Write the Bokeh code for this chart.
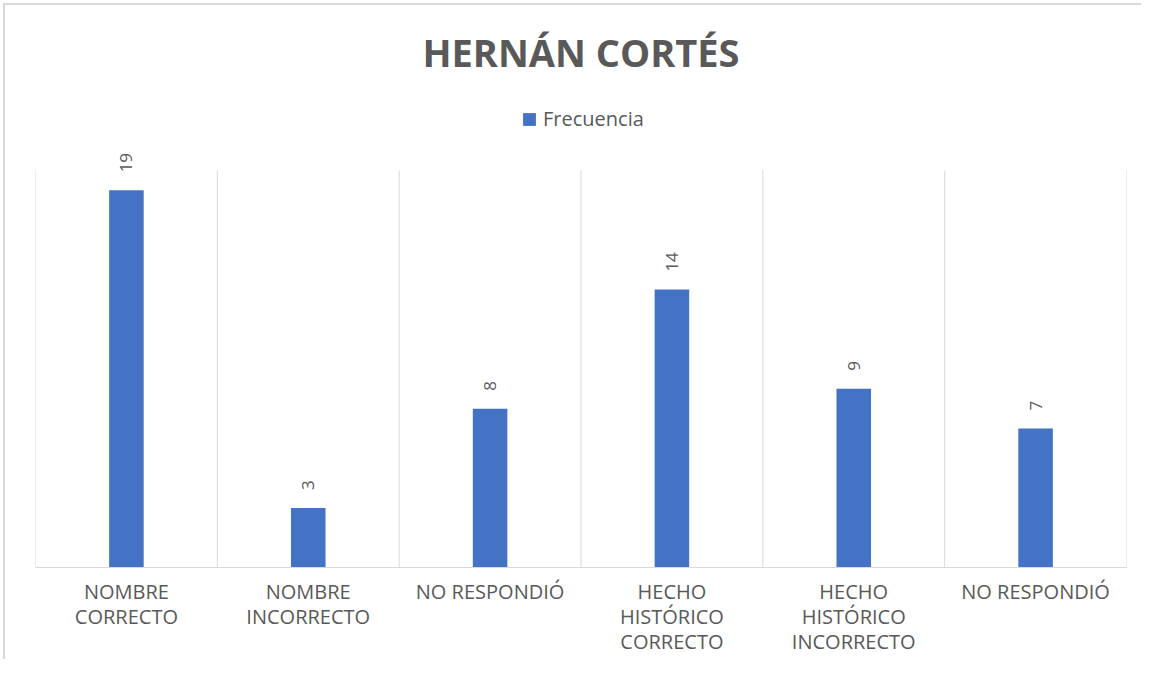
import textwrap
from math import pi
from bokeh.plotting import figure
from bokeh.models import Range1d, FixedTicker, ColumnDataSource, Legend, LegendItem, Title
from bokeh.core.properties import value
from bokeh.embed import file_html
from bokeh.resources import INLINE

# ---- data ----
categories = ["NOMBRE CORRECTO", "NOMBRE INCORRECTO", "NO RESPONDIÓ",
              "HECHO HISTÓRICO CORRECTO", "HECHO HISTÓRICO INCORRECTO", "NO RESPONDIÓ"]
frecuencia = [19, 3, 8, 14, 9, 7]
series_name = "Frecuencia"
title_text = "HERNÁN CORTÉS"
axis_max = 20

# ---- layout / style ----
FONT = "Open Sans"
GRAY = "#595959"
BLUE = "#4472C4"
LIGHT = "#d9d9d9"
W, H = 1141, 659
FRAME_TOP, FRAME_BOTTOM = 100, 567
PX_PER_UNIT = 397 / axis_max
y_end = (FRAME_BOTTOM - FRAME_TOP) / PX_PER_UNIT

n = len(categories)
positions = list(range(n))

p = figure(width=W, height=H, output_backend="svg", toolbar_location=None,
           x_range=Range1d(-0.5, n - 0.5), y_range=Range1d(0, y_end),
           min_border_left=35, min_border_right=15, min_border_top=FRAME_TOP,
           min_border_bottom=H - FRAME_BOTTOM,
           border_fill_color=None,
           styles={"box-shadow": "inset 3px 3px 0 0 #ffffff, inset 5px 5px 0 0 #d9d9d9"})

p.title = Title(text=title_text, align="center", vertical_align="top", text_font=FONT,
                text_font_size="38px", text_font_style="bold", text_color=GRAY, standoff=42)

# category separators (vertical gridlines limited to the value axis maximum)
bounds = [i - 0.5 for i in range(n + 1)]
p.segment(x0=bounds, x1=bounds, y0=[0] * len(bounds), y1=[axis_max] * len(bounds),
          line_color=LIGHT, line_width=1)

src = ColumnDataSource(dict(x=positions, top=frecuencia, label=[str(v) for v in frecuencia]))
bars = p.vbar(x="x", top="top", width=0.19, source=src, fill_color=BLUE, line_color=None)

p.text(x="x", y="top", text="label", source=src, angle=pi / 2, text_align="left",
       text_baseline="middle", y_offset=-18, text_font=value(FONT), text_font_size="17px",
       text_color=GRAY)

legend = Legend(items=[LegendItem(label=series_name, renderers=[bars])],
                location=(486, 435), orientation="horizontal", padding=0, margin=0,
                glyph_width=16, glyph_height=16, label_standoff=6,
                label_text_font=FONT, label_text_font_size="20px", label_text_color=GRAY,
                border_line_color=None, background_fill_alpha=0)
p.add_layout(legend, "center")

p.yaxis.visible = False
p.grid.visible = False

p.xaxis.ticker = FixedTicker(ticks=positions)
p.xaxis.major_label_overrides = {i: "\n".join(textwrap.wrap(c, 12)) for i, c in enumerate(categories)}
p.xaxis.axis_line_color = LIGHT
p.xaxis.axis_line_width = 1
p.xaxis.major_tick_line_color = None
p.xaxis.minor_tick_line_color = None
p.xaxis.major_label_text_font = FONT
p.xaxis.major_label_text_font_size = "20px"
p.xaxis.major_label_text_color = GRAY
p.xaxis.major_label_text_line_height = 0.94
p.xaxis.major_label_standoff = 4
p.outline_line_color = None

open("out.html", "w").write(file_html(p, INLINE))
